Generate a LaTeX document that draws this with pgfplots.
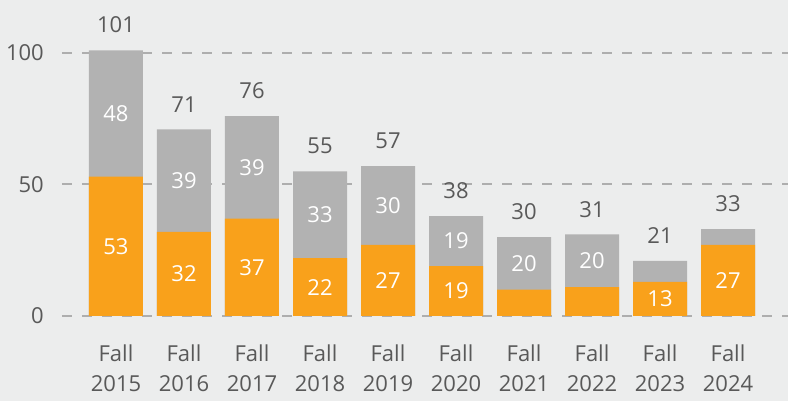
\documentclass[border=0pt]{standalone}
\usepackage{pgfplots}
\pgfplotsset{compat=1.18}
\usepackage{pgfplotstable}
\usepackage{fontspec}
\setmainfont{Open Sans}
\definecolor{bg}{HTML}{ECEDED}
\definecolor{orng}{HTML}{F9A11B}
\definecolor{gbar}{HTML}{B2B2B2}
\definecolor{txt}{HTML}{595959}
\definecolor{gridc}{HTML}{AEAEAE}
\newcommand\lf{\fontsize{22}{30}\selectfont}
\pgfplotstableread{
x o g
0 53 48
1 32 39
2 37 39
3 22 33
4 27 30
5 19 19
6 10 20
7 11 20
8 13 8
9 27 6
}\data
\begin{document}
\begin{tikzpicture}
\fill[bg] (-62pt,-85pt) rectangle (726pt,316pt);
\begin{axis}[
 at={(0,0)}, anchor=south west,
 scale only axis, width=726pt, height=263pt,
 xmin=-0.794, xmax=9.882, ymin=0, ymax=100,
 clip=false,
 axis line style={draw=none},
 major tick length=0pt,
 ytick={0,50,100},
 ymajorgrids,
 major grid style={gridc, line width=2pt, dash pattern=on 10pt off 10pt},
 xtick={0,...,9},
 xticklabels={Fall\\2015,Fall\\2016,Fall\\2017,Fall\\2018,Fall\\2019,Fall\\2020,Fall\\2021,Fall\\2022,Fall\\2023,Fall\\2024},
 xticklabel style={align=center, inner sep=0pt, yshift=-29pt, font=\lf, text=txt},
 yticklabel style={inner sep=0pt, xshift=-18pt, font=\lf, text=txt},
 /pgf/number format/assume math mode=true,
]
\addplot[ybar, bar width=54pt, bar shift=0pt, fill=gbar, draw=none] table[x=x, y expr=\thisrow{o}+\thisrow{g}] {\data};
\addplot[ybar, bar width=54pt, bar shift=0pt, fill=orng, draw=none] table[x=x, y=o] {\data};
\addplot[draw=none, mark=none, nodes near coords, point meta=explicit,
  nodes near coords style={anchor=center, inner sep=0pt, text=white, font=\lf}]
  table[x=x, y expr={\thisrow{o}>=12 ? \thisrow{o}/2 : nan}, meta=o] {\data};
\addplot[draw=none, mark=none, nodes near coords, point meta=explicit,
  nodes near coords style={anchor=center, inner sep=0pt, text=white, font=\lf}]
  table[x=x, y expr={\thisrow{g}>=12 ? \thisrow{o}+\thisrow{g}/2 : nan}, meta=g] {\data};
\addplot[draw=none, mark=none, nodes near coords, point meta=explicit,
  nodes near coords style={anchor=south, inner sep=0pt, yshift=17pt, text=txt, font=\lf}]
  table[x=x, y expr=\thisrow{o}+\thisrow{g}, meta expr=\thisrow{o}+\thisrow{g}] {\data};
\end{axis}
\pgfresetboundingbox
\useasboundingbox (-62pt,-85pt) rectangle (726pt,316pt);
\end{tikzpicture}
\end{document}
